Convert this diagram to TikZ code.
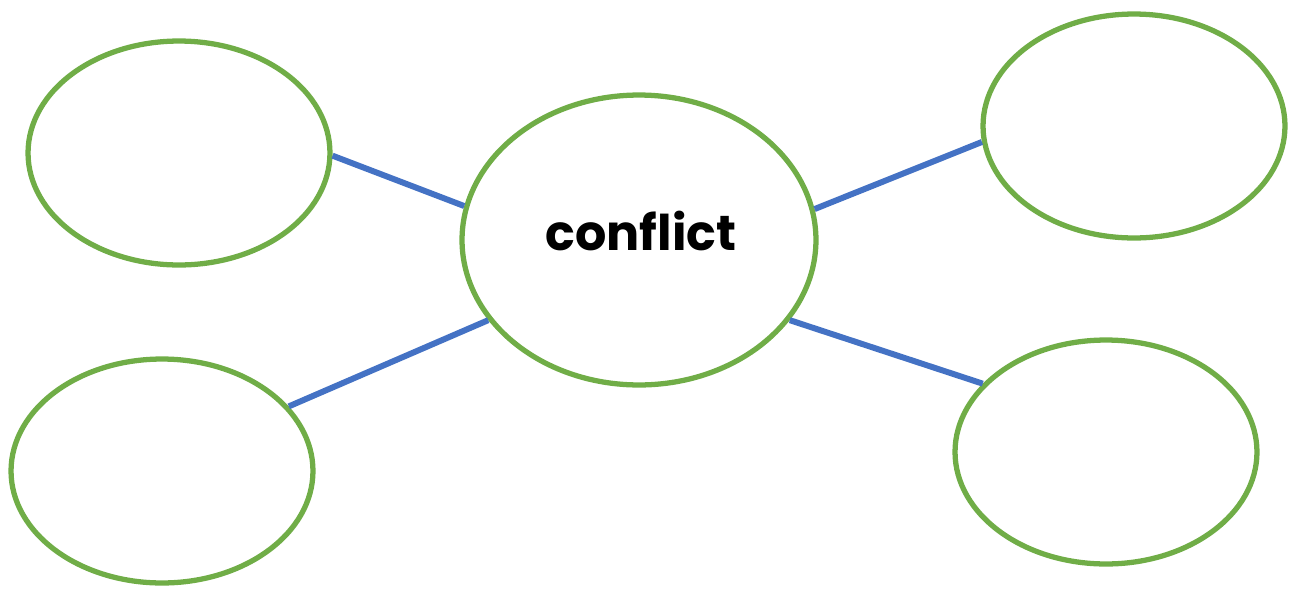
\documentclass[tikz,border=0pt]{standalone}
\usepackage{fontspec}
\setmainfont{Poppins}
\usetikzlibrary{shapes.geometric}
\definecolor{leafgreen}{HTML}{70AD47}
\definecolor{linkblue}{HTML}{4472C4}
\begin{document}
\begin{tikzpicture}[x=0.02cm, y=-0.02cm,
    bubble/.style={ellipse,draw=leafgreen,line width=3pt,minimum width=6.04cm,minimum height=4.48cm,inner sep=0pt},
    link/.style={draw=linkblue,line width=3.4pt}]
            \useasboundingbox (0,0) rectangle (1292,589);
            % Bubbles
            \node[bubble,minimum width=7.08cm,minimum height=5.8cm] (c) at (639,240) {};
            \node[bubble] (tl) at (179,153) {};
            \node[bubble] (bl) at (162,471) {};
            \node[bubble] (tr) at (1134,126) {};
            \node[bubble] (br) at (1106,452) {};
            % Links
            \draw[link] (c.169) -- (tl.-1);
            \draw[link] (c.208) -- (bl.27);
            \draw[link] (c.10) -- (tr.186);
            \draw[link] (c.-28) -- (br.151);
            % Label
            \node at (641,231) {\fontsize{28}{33}\selectfont\bfseries conflict};
          \end{tikzpicture}
\end{document}
